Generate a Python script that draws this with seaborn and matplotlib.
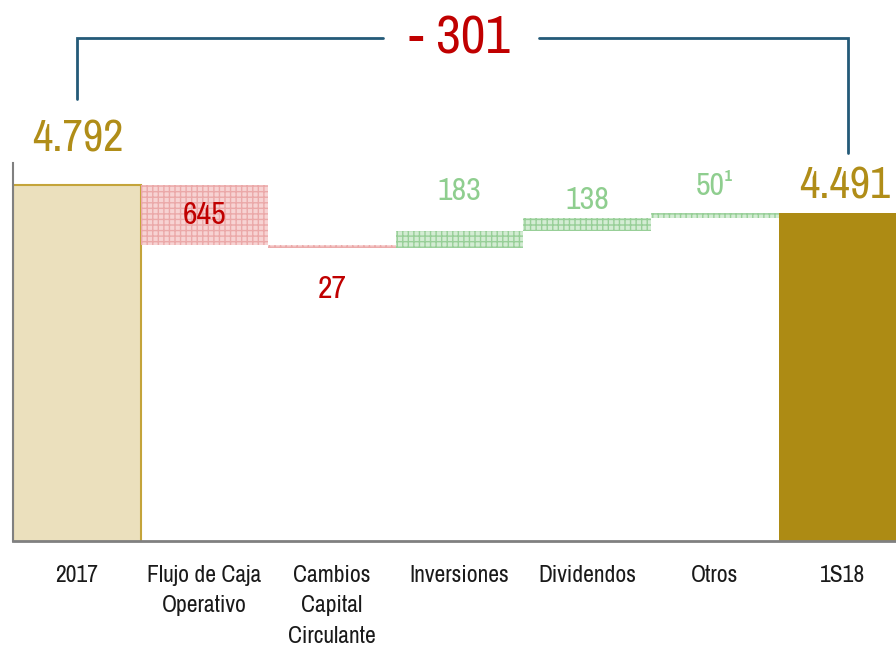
import pandas as pd
import matplotlib.pyplot as plt
import seaborn as sns
from matplotlib import font_manager

# data
categories = ["2017", "Flujo de Caja\nOperativo", "Cambios\nCapital\nCirculante",
              "Inversiones", "Dividendos", "Otros", "1S18"]
start_value = 4792
end_value = 4491
changes = [-645, -27, 183, 138, 50]
change_labels = ["645", "27", "183", "138", "50¹"]
total_labels = ["4.792", "4.491"]
diff_label = "- 301"

# label offsets (data units) from the bar edge
label_offsets = [None, -450, 430, 194, 290]

GOLD = "#ad8b14"
GOLD_LIGHT = "#ebe0bd"
GOLD_TEXT = "#b08d18"
RED_TEXT = "#c00000"
GREEN_TEXT = "#8fce8f"
RED_FILL, RED_HATCH = "#f7d3d3", "#eba9a9"
GREEN_FILL, GREEN_HATCH = "#d3ecd3", "#98cf98"
BRACKET = "#245a78"

sns.set_style("white")

# the reference uses a condensed face: prefer a "Narrow" one, then any condensed
faces = [f for f in font_manager.fontManager.ttflist
         if f.style == "normal" and str(f.weight) in ("400", "normal", "book", "regular")]
narrow = [f for f in faces if "Narrow" in f.name]
if not narrow:
    narrow = [f for f in faces if "ondensed" in str(f.stretch) or "Condensed" in f.name]
if narrow:
    plt.rcParams["font.family"] = [narrow[0].name, "DejaVu Sans"]
    plt.rcParams["font.stretch"] = narrow[0].stretch
else:
    plt.rcParams["font.family"] = ["Roboto", "DejaVu Sans"]

fig = plt.figure(figsize=(8.96, 6.52), dpi=100)
ax = fig.add_axes([13 / 896, 111 / 652, 883 / 896, 378 / 652])

# total bars via seaborn
totals = pd.DataFrame({"cat": [categories[0], categories[-1]],
                       "value": [start_value, end_value]})
sns.barplot(data=totals, x="cat", y="value", order=categories, hue="cat",
            palette=[GOLD_LIGHT, GOLD], width=1.0, legend=False, ax=ax,
            saturation=1)
for p in ax.patches:
    p.set_linewidth(0)
ax.patches[0].set_edgecolor("#c4a43a")
ax.patches[0].set_linewidth(1.5)

fs_val = 23
fs_tot = 32
fs_diff = 39
fs_tick = 17

# floating change bars
level = start_value
for i, ch in enumerate(changes, start=1):
    bottom = min(level, level + ch)
    if ch < 0:
        fill, hatch_c = RED_FILL, RED_HATCH
    else:
        fill, hatch_c = GREEN_FILL, GREEN_HATCH
    ax.bar(i, abs(ch), bottom=bottom, width=1.0, color=fill,
           edgecolor=hatch_c, hatch="+++", linewidth=0)
    top = bottom + abs(ch)
    col = RED_TEXT if ch < 0 else GREEN_TEXT
    off = label_offsets[i - 1]
    if off is None:
        y = (bottom + top) / 2
    elif ch < 0:
        y = bottom + off
    else:
        y = top + off
    ax.text(i, y, change_labels[i - 1], ha="center", va="center",
            fontsize=fs_val, color=col)
    level += ch

# total labels
ax.text(0.01, start_value + 495, total_labels[0], ha="center", va="center",
        fontsize=fs_tot, color=GOLD_TEXT, clip_on=False)
ax.text(6.02, end_value + 290, total_labels[1], ha="center", va="center",
        fontsize=fs_tot, color=GOLD_TEXT, clip_on=False)

# bracket
y_top = start_value + 1580
ax.plot([0, 0, 2.4], [start_value + 920, y_top, y_top], color=BRACKET,
        lw=2, clip_on=False, solid_joinstyle="miter")
ax.plot([3.62, 6.04, 6.04], [y_top, y_top, end_value + 650], color=BRACKET,
        lw=2, clip_on=False, solid_joinstyle="miter")
ax.text(3.0, y_top, diff_label, ha="center", va="center", fontsize=fs_diff,
        color=RED_TEXT, clip_on=False)

ax.set_xlim(-0.5, 6.42)
ax.set_ylim(964, 5029)
ax.set_xlabel("")
ax.set_ylabel("")
ax.set_yticks([])
ax.set_xticks(range(len(categories)))
ax.set_xticklabels(categories, fontsize=fs_tick, linespacing=1.58)
ax.tick_params(axis="x", length=0, pad=17, labelcolor="#1a1a1a")
for s in ["top", "right"]:
    ax.spines[s].set_visible(False)
ax.spines["left"].set_color("#808080")
ax.spines["left"].set_linewidth(1.5)
ax.spines["bottom"].set_color("#808080")
ax.spines["bottom"].set_linewidth(2)

fig.savefig("out.png", dpi=100)
